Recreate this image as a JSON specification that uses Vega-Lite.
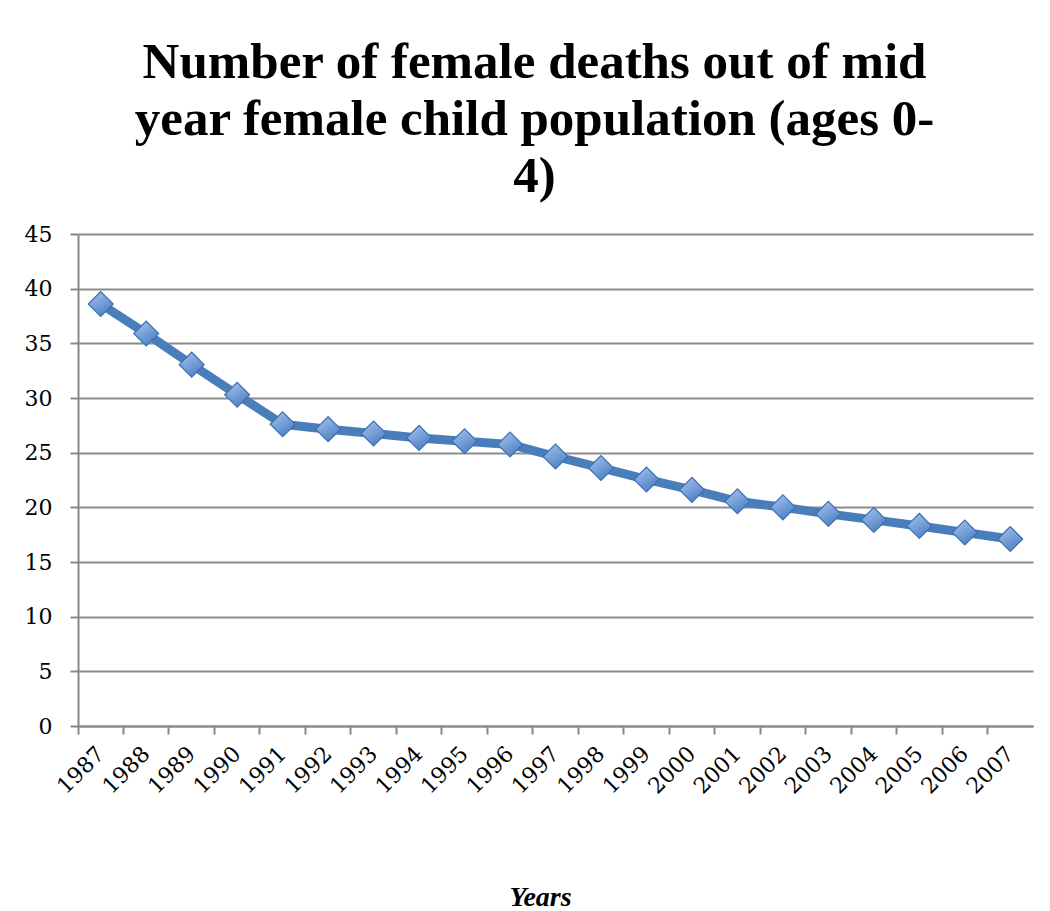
{
  "$schema": "https://vega.github.io/schema/vega-lite/v6.json",
  "width": 955,
  "height": 492,
  "autosize": "none",
  "padding": {"left": 78, "top": 234, "right": 17, "bottom": 185},
  "background": "white",
  "title": {
    "text": ["Number of female deaths out of mid", "year female child population (ages 0-", "4)"],
    "font": "Liberation Serif",
    "fontSize": 51,
    "fontWeight": "bold",
    "lineHeight": 57,
    "anchor": "middle",
    "dx": -21,
    "offset": 20,
    "color": "black"
  },
  "data": {
    "values": [
      {"year": "1987", "value": 38.6},
      {"year": "1988", "value": 35.9},
      {"year": "1989", "value": 33.05},
      {"year": "1990", "value": 30.3},
      {"year": "1991", "value": 27.6},
      {"year": "1992", "value": 27.15},
      {"year": "1993", "value": 26.75},
      {"year": "1994", "value": 26.35},
      {"year": "1995", "value": 26.05},
      {"year": "1996", "value": 25.75},
      {"year": "1997", "value": 24.65},
      {"year": "1998", "value": 23.6},
      {"year": "1999", "value": 22.55},
      {"year": "2000", "value": 21.6},
      {"year": "2001", "value": 20.55},
      {"year": "2002", "value": 20.0},
      {"year": "2003", "value": 19.4},
      {"year": "2004", "value": 18.85},
      {"year": "2005", "value": 18.3},
      {"year": "2006", "value": 17.7},
      {"year": "2007", "value": 17.1}
    ]
  },
  "encoding": {
    "x": {
      "field": "year",
      "type": "ordinal",
      "sort": null,
      "scale": {"type": "band", "paddingInner": 0, "paddingOuter": 0},
      "axis": {
        "title": "Years",
        "titleFont": "Liberation Serif",
        "titleFontSize": 28,
        "titleFontWeight": "bold",
        "titleFontStyle": "italic",
        "titleColor": "black",
        "titleX": 462,
        "titleY": 179,
        "titleBaseline": "alphabetic",
        "titleAnchor": "start",
        "titleAlign": "center",
        "bandPosition": 0,
        "labelAngle": -45,
        "labelAlign": "right",
        "labelBaseline": "middle",
        "labelFont": "DejaVu Serif",
        "labelFontSize": 22,
        "labelColor": "black",
        "labelPadding": 16,
        "labelOverlap": false,
        "ticks": true,
        "tickSize": 8,
        "tickColor": "#888888",
        "tickWidth": 2,
        "domainColor": "#888888",
        "domainWidth": 2,
        "grid": false
      }
    },
    "y": {
      "field": "value",
      "type": "quantitative",
      "scale": {"domain": [0, 45], "nice": false},
      "axis": {
        "title": null,
        "values": [0, 5, 10, 15, 20, 25, 30, 35, 40, 45],
        "labelFont": "DejaVu Serif",
        "labelFontSize": 22,
        "labelColor": "black",
        "labelPadding": 18,
        "tickSize": 8,
        "tickColor": "#888888",
        "tickWidth": 2,
        "domainColor": "#888888",
        "domainWidth": 2,
        "grid": true,
        "gridColor": "#8c8c8c",
        "gridWidth": 2
      }
    }
  },
  "layer": [
    {
      "mark": {"type": "line", "color": "#4a7ebb", "strokeWidth": 9, "strokeJoin": "round"}
    },
    {
      "mark": {
        "type": "point",
        "shape": "diamond",
        "size": 620,
        "filled": true,
        "opacity": 1,
        "fill": {
          "gradient": "linear",
          "x1": 0, "y1": 0, "x2": 0.6, "y2": 1,
          "stops": [
            {"offset": 0, "color": "#a9c6ee"},
            {"offset": 1, "color": "#4f82c6"}
          ]
        },
        "stroke": "#3e6fb0",
        "strokeWidth": 1.2
      }
    }
  ],
  "config": {"view": {"stroke": null}}
}
